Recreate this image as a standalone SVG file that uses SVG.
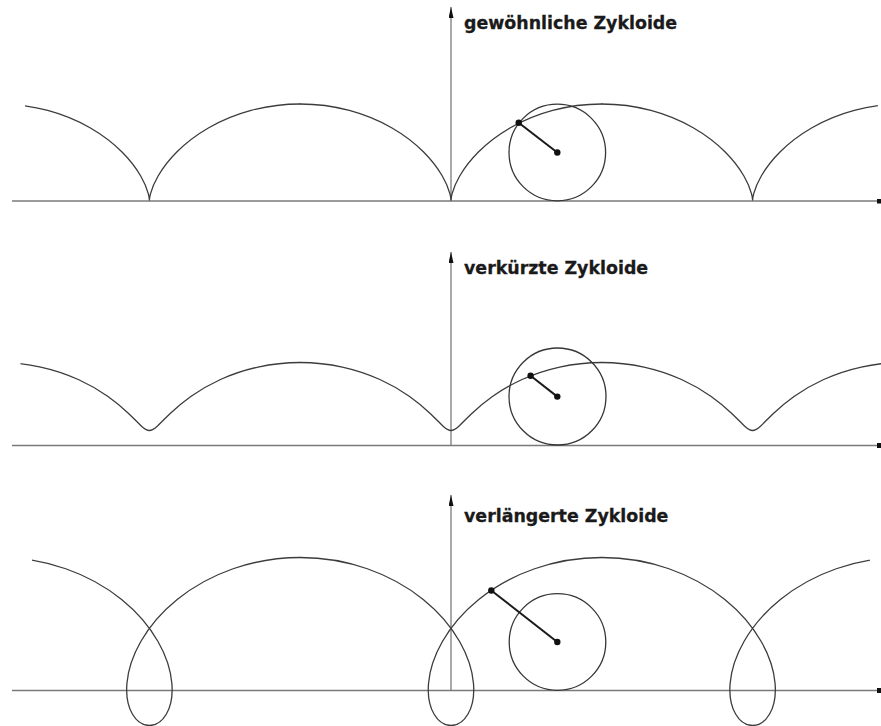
<svg xmlns="http://www.w3.org/2000/svg" xmlns:xlink="http://www.w3.org/1999/xlink" width="881" height="726" viewBox="0 0 881 726">
<defs>
<style>
.axis{stroke:#7a7a7a;stroke-width:1.3;fill:none}
.curve{stroke:#3c3c3c;stroke-width:1.3;fill:none;stroke-linejoin:round;stroke-linecap:round}
.wheel{stroke:#363636;stroke-width:1.3;fill:none}
.spoke{stroke:#1a1a1a;stroke-width:2}
.dot{fill:#111}
.label{font-family:"DejaVu Sans","Liberation Sans",sans-serif;font-weight:bold;font-size:17.4px;fill:#1a1a1a;stroke:#1a1a1a;stroke-width:0.3}
</style>
<marker id="arrow" viewBox="0 0 11 5" refX="11" refY="2.5" markerWidth="11" markerHeight="5" markerUnits="userSpaceOnUse" orient="auto">
<path d="M0,0 L11,2.5 L0,5 z" fill="#111"/>
</marker>
<marker id="sq" viewBox="0 0 5 5" refX="2.5" refY="2.5" markerWidth="5" markerHeight="5" markerUnits="userSpaceOnUse">
<rect width="5" height="5" fill="#111"/>
</marker>
<path id="arch1" d="M-150.796,-48 C-134.041,-48 -117.297,-45.758 -101.664,-41.569 C-86.031,-37.380 -71.528,-31.255 -58.962,-24 C-46.396,-16.745 -35.776,-8.378 -27.398,0 C-19.020,8.378 -12.885,16.745 -8.696,24 C-4.507,31.255 -2.256,37.380 -1.133,41.569 C-0.011,45.758 0,48 0,48 C0,48 0.011,45.758 1.133,41.569 C2.256,37.380 4.507,31.255 8.696,24 C12.885,16.745 19.020,8.378 27.398,0 C35.776,-8.378 46.396,-16.745 58.962,-24 C71.528,-31.255 86.031,-37.380 101.664,-41.569 C117.297,-45.758 134.041,-48 150.796,-48"/>
<path id="arch2" d="M-150.796,-34 C-136.484,-34 -122.181,-32.412 -108.664,-29.445 C-95.147,-26.478 -82.431,-22.139 -71.086,-17 C-59.741,-11.861 -49.776,-5.934 -41.398,0 C-33.020,5.934 -26.231,11.861 -20.820,17 C-15.410,22.139 -11.372,26.478 -8.133,29.445 C-4.894,32.412 -2.444,34 0,34 C2.444,34 4.894,32.412 8.133,29.445 C11.372,26.478 15.410,22.139 20.820,17 C26.231,11.861 33.020,5.934 41.398,0 C49.776,-5.934 59.741,-11.861 71.086,-17 C82.431,-22.139 95.147,-26.478 108.664,-29.445 C122.181,-32.412 136.484,-34 150.796,-34"/>
<path id="arch3" d="M-150.796,-84 C-127.758,-84 -104.738,-80.076 -83.664,-72.746 C-62.590,-65.416 -43.493,-54.697 -27.785,-42 C-12.077,-29.303 0.224,-14.661 8.602,0 C16.980,14.661 21.434,29.303 22.481,42 C23.528,54.697 21.186,65.416 16.867,72.746 C12.548,80.076 6.283,84 0,84 C-6.283,84 -12.548,80.076 -16.867,72.746 C-21.186,65.416 -23.528,54.697 -22.481,42 C-21.434,29.303 -16.980,14.661 -8.602,0 C-0.224,-14.661 12.077,-29.303 27.785,-42 C43.493,-54.697 62.590,-65.416 83.664,-72.746 C104.738,-80.076 127.758,-84 150.796,-84"/>
<clipPath id="clip1"><rect x="25" y="60" width="853" height="160"/></clipPath>
<clipPath id="clip2"><rect x="20.5" y="320" width="861" height="140"/></clipPath>
<clipPath id="clip3"><rect x="32" y="530" width="838" height="196"/></clipPath>
</defs>
<rect width="881" height="726" fill="#ffffff"/>

<g id="panel-gewoehnlich">
<g id="axes1">
<line class="axis" x1="12" y1="201" x2="879" y2="201" marker-end="url(#sq)"/>
<line class="axis" x1="451" y1="201" x2="451" y2="7" marker-end="url(#arrow)"/>
</g>
<g id="curve1" class="curve" clip-path="url(#clip1)">
<use xlink:href="#arch1" transform="translate(149.4 152)"/>
<use xlink:href="#arch1" transform="translate(451 152)"/>
<use xlink:href="#arch1" transform="translate(752.6 152)"/>
</g>
<g id="wheel1">
<circle class="wheel" cx="557.3" cy="152.5" r="48.3"/>
<line class="spoke" x1="518.7" y1="122.8" x2="557.3" y2="152.5"/>
<circle class="dot" cx="518.7" cy="122.8" r="3.2"/>
<circle class="dot" cx="557.3" cy="152.5" r="3.2"/>
</g>
<text class="label" x="464" y="29">gewöhnliche Zykloide</text>
</g>

<g id="panel-verkuerzt">
<g id="axes2">
<line class="axis" x1="12" y1="445.5" x2="879" y2="445.5" marker-end="url(#sq)"/>
<line class="axis" x1="451" y1="445.5" x2="451" y2="252" marker-end="url(#arrow)"/>
</g>
<g id="curve2" class="curve" clip-path="url(#clip2)">
<use xlink:href="#arch2" transform="translate(149.4 396.5)"/>
<use xlink:href="#arch2" transform="translate(451 396.5)"/>
<use xlink:href="#arch2" transform="translate(752.6 396.5)"/>
</g>
<g id="wheel2">
<circle class="wheel" cx="557.5" cy="396.5" r="48.5"/>
<line class="spoke" x1="530.6" y1="375.8" x2="557.3" y2="396.6"/>
<circle class="dot" cx="530.6" cy="375.8" r="3.2"/>
<circle class="dot" cx="557.3" cy="396.6" r="3.2"/>
</g>
<text class="label" x="464" y="273.5">verkürzte Zykloide</text>
</g>

<g id="panel-verlaengert">
<g id="axes3">
<line class="axis" x1="12" y1="690.5" x2="879" y2="690.5" marker-end="url(#sq)"/>
<line class="axis" x1="451" y1="690.5" x2="451" y2="495" marker-end="url(#arrow)"/>
</g>
<g id="curve3" class="curve" clip-path="url(#clip3)">
<use xlink:href="#arch3" transform="translate(149.4 641.5)"/>
<use xlink:href="#arch3" transform="translate(451 641.5)"/>
<use xlink:href="#arch3" transform="translate(752.6 641.5)"/>
</g>
<g id="wheel3">
<circle class="wheel" cx="557.5" cy="642" r="48.3"/>
<line class="spoke" x1="491.3" y1="590.5" x2="557.3" y2="642"/>
<circle class="dot" cx="491.3" cy="590.5" r="3.2"/>
<circle class="dot" cx="557.3" cy="642" r="3.2"/>
</g>
<text class="label" x="464" y="521.5">verlängerte Zykloide</text>
</g>
</svg>
